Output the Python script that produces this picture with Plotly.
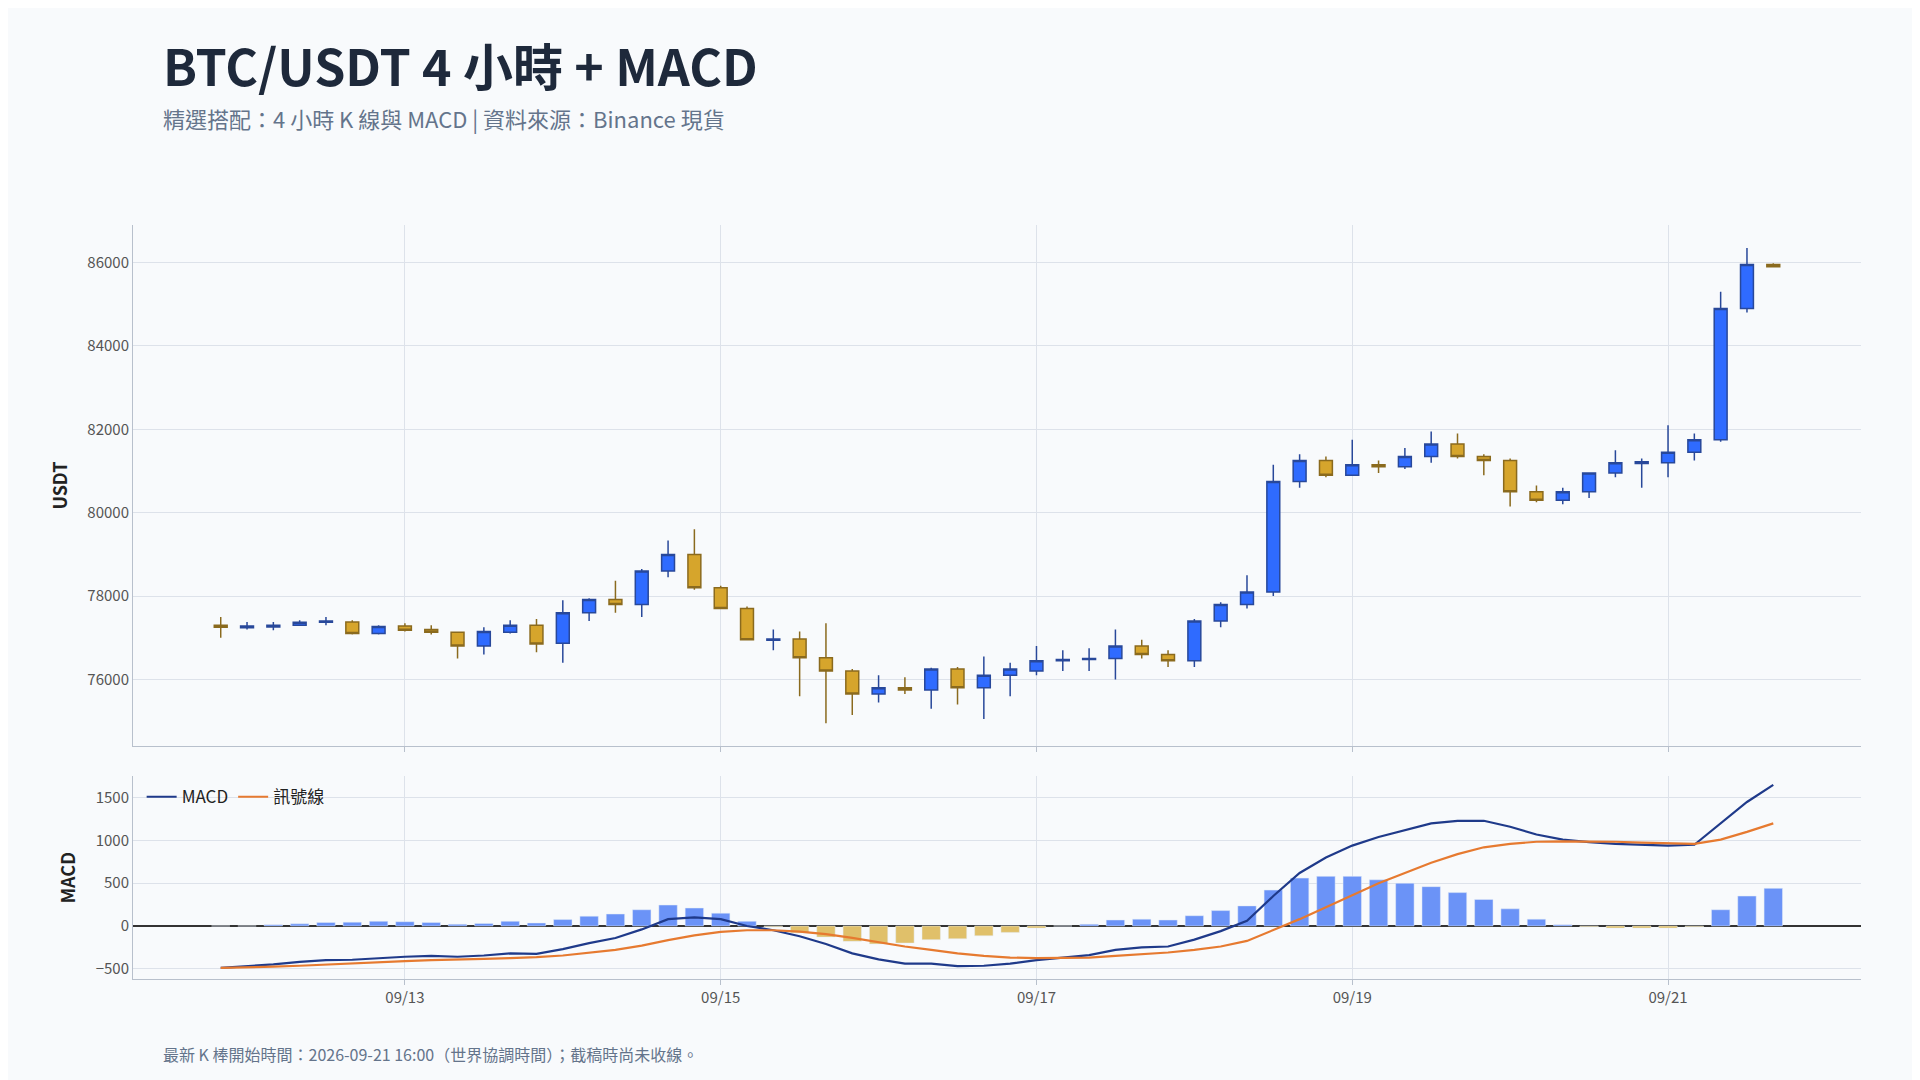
import pandas as pd
import plotly.graph_objects as go
from plotly.subplots import make_subplots

times = pd.date_range("2026-09-11 20:00", periods=60, freq="4h")
opens = [77300,77240,77260,77300,77370,77380,77100,77280,77200,77130,76800,77130,77300,76870,77600,77920,77800,78600,79000,78200,
         77700,76940,76970,76520,76200,75650,75800,75750,76250,75800,76100,76200,76450,76480,76500,76800,76600,76450,77400,77800,
         78100,80750,81250,80900,81150,81100,81350,81650,81350,81250,80500,80300,80500,80950,81180,81200,81450,81750,84900,85950]
closes = [77250,77280,77300,77370,77400,77100,77270,77180,77130,76800,77150,77300,76850,77600,77920,77800,78600,79000,78200,77700,
          76950,76970,76520,76200,75650,75800,75750,76250,75800,76100,76250,76450,76480,76500,76800,76600,76450,77400,77800,78100,
          80750,81250,80900,81150,81100,81350,81650,81350,81250,80500,80300,80500,80950,81200,81220,81450,81750,84900,85950,85900]
highs = [77500,77380,77380,77420,77500,77420,77300,77350,77300,77150,77250,77420,77450,77900,77950,78370,78650,79330,79600,78250,
         77750,77200,77150,77350,76250,76100,76050,76280,76300,76550,76400,76800,76700,76750,77200,76950,76700,77450,77850,78500,
         81150,81400,81350,81750,81250,81550,81950,81900,81400,81300,80650,80600,80950,81500,81300,82100,81900,85300,86350,85980]
lows = [77000,77200,77180,77280,77300,77080,77080,77150,77080,76500,76600,77100,76650,76400,77400,77600,77500,78450,78150,77700,
        76950,76700,75600,74950,75150,75450,75650,75300,75400,75050,75600,76100,76200,76200,76000,76500,76300,76300,77250,77700,
        78000,80600,80850,80900,80950,81050,81200,81300,80900,80150,80250,80200,80350,80850,80600,80850,81250,81700,84800,85880]
macd = [-490,-470,-450,-420,-400,-395,-375,-360,-350,-360,-345,-320,-325,-270,-200,-140,-40,80,100,80,
        0,-50,-120,-210,-320,-390,-440,-440,-470,-465,-440,-400,-370,-340,-280,-250,-240,-160,-60,60,
        350,620,800,940,1040,1120,1200,1230,1230,1160,1070,1010,980,960,950,940,950,1200,1450,1650]
signal = [-490,-485,-475,-465,-450,-435,-425,-410,-400,-395,-385,-375,-365,-345,-315,-280,-230,-165,-110,-70,
          -50,-50,-65,-95,-140,-190,-240,-280,-320,-350,-370,-375,-375,-370,-350,-330,-310,-280,-240,-175,
          -50,80,220,360,500,620,740,840,920,960,985,990,990,985,975,965,960,1010,1100,1200]
hist = [0,0,15,25,40,45,55,50,40,20,30,55,35,75,115,140,190,245,210,150,
        55,-10,-80,-130,-180,-210,-200,-160,-150,-115,-75,-25,0,20,70,80,70,120,180,235,
        420,560,580,580,540,500,460,390,310,200,80,15,-10,-25,-25,-25,-10,190,350,440]

fig = make_subplots(rows=2, cols=1, shared_xaxes=True, row_heights=[0.72, 0.28], vertical_spacing=0.04)
fig.add_trace(go.Candlestick(x=times, open=opens, high=highs, low=lows, close=closes,
    increasing=dict(fillcolor="#2f6bff", line=dict(color="#28489a", width=1.5)),
    decreasing=dict(fillcolor="#d6a52c", line=dict(color="#8a6a1e", width=1.5)),
    showlegend=False, whiskerwidth=0), row=1, col=1)
fig.add_trace(go.Bar(x=times, y=hist, marker_color=["#6b93f7" if v >= 0 else "#e0c06a" for v in hist],
    showlegend=False, width=4*3600*1000*0.7), row=2, col=1)
fig.add_trace(go.Scatter(x=times, y=macd, mode="lines", name="MACD", line=dict(color="#1f3a8a", width=2.2)), row=2, col=1)
fig.add_trace(go.Scatter(x=times, y=signal, mode="lines", name="訊號線", line=dict(color="#e67a30", width=2.2)), row=2, col=1)

xr = [pd.Timestamp("2026-09-11 06:40"), pd.Timestamp("2026-09-22 05:20")]
ax = dict(gridcolor="#dde2ea", showline=True, linecolor="#b8c0cc", tickfont=dict(size=15, color="#555"),
          range=xr, dtick=2*86400000, tick0="2026-09-13", tickformat="%m/%d", ticks="outside", tickcolor="#b8c0cc")
fig.update_xaxes(**ax, rangeslider_visible=False)
fig.update_xaxes(showticklabels=False, row=1, col=1)
fig.update_yaxes(gridcolor="#dde2ea", showline=True, linecolor="#b8c0cc", tickfont=dict(size=15, color="#555"),
                 title_font=dict(size=18, color="#222"))
fig.update_yaxes(title_text="<b>USDT</b>", range=[74400, 86900], dtick=2000, tickformat="d", row=1, col=1)
fig.update_yaxes(title_text="<b>MACD</b>", range=[-620, 1750], tickvals=[-500, 0, 500, 1000, 1500],
                 zeroline=True, zerolinecolor="#333", zerolinewidth=1.5, row=2, col=1)

W, H, L, R, T, B = 1920, 1080, 125, 67, 217, 109
pw, ph = W - L - R, H - T - B
def px(x): return (x - L) / pw
def py(y): return 1 - (y - T) / ph

fig.update_layout(
    width=W, height=H, paper_bgcolor="#f8fafc", plot_bgcolor="#f8fafc",
    font=dict(family="Noto Sans CJK TC, Noto Sans, sans-serif"),
    margin=dict(l=L, r=R, t=T, b=B), bargap=0.3,
    legend=dict(orientation="h", x=0.005, y=0.265, xanchor="left", yanchor="top", font=dict(size=17, color="#222"),
                bgcolor="rgba(0,0,0,0)"),
)
fig.add_annotation(text="<b>BTC/USDT 4 小時 + MACD</b>", x=px(153), y=py(18), xref="paper", yref="paper",
                   xanchor="left", yanchor="top", showarrow=False, font=dict(size=50, color="#1e293b"))
fig.add_annotation(text="精選搭配：4 小時 K 線與 MACD | 資料來源：Binance 現貨", x=px(153), y=py(92), xref="paper", yref="paper",
                   xanchor="left", yanchor="top", showarrow=False, font=dict(size=22, color="#64748b"))
fig.add_annotation(text="最新 K 棒開始時間：2026-09-21 16:00（世界協調時間）；截稿時尚未收線。", x=px(153), y=py(1032),
                   xref="paper", yref="paper", xanchor="left", yanchor="top", showarrow=False, font=dict(size=16, color="#64748b"))
fig.write_html("out.html")
